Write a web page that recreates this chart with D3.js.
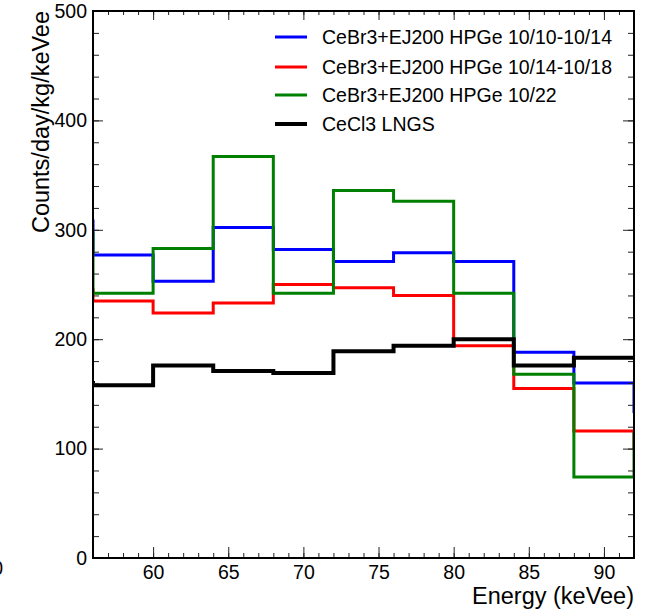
<!DOCTYPE html>
<html>
<head>
<meta charset="utf-8">
<script src="https://cdn.jsdelivr.net/npm/d3@7"></script>
<style>
    body { margin: 0; background: #fff; }
    svg { display: block; font-family: "Liberation Sans", Arial, Helvetica, sans-serif; }
    .tick line { stroke: #222; }
    .domain { display: none; }
</style>
</head>
<body>
<div id="chart"></div>
<script>
// bin low edges (keVee), 4 keVee wide; first and last bins sit outside the frame
const binStarts = [52, 56, 60, 64, 68, 72, 76, 80, 84, 88, 92];
const binWidth = 4;

const seriesNames = [
    "CeBr3+EJ200 HPGe 10/10-10/14",
    "CeBr3+EJ200 HPGe 10/14-10/18",
    "CeBr3+EJ200 HPGe 10/22",
    "CeCl3 LNGS"
];
const seriesColors = ["#0000ff", "#ff0000", "#008000", "#000000"];

// counts/day/kg/keVee per bin
const blueValues  = [308, 277, 253, 302, 282, 271, 279, 271, 188, 160, 134];
const redValues   = [245, 235, 224, 233, 250, 247, 240, 194, 155, 116, 100];
const greenValues = [297, 242, 283, 367, 242, 336, 326, 242, 168, 74, 114];
const blackValues = [160, 158, 176, 171, 169, 189, 194, 200, 176, 183, 183];

const xTicks = [60, 65, 70, 75, 80, 85, 90];
const yTicks = [0, 100, 200, 300, 400, 500];

(function () {
    let width = 646, height = 610;
    let frame = {left: 93, right: 634, top: 11, bottom: 558};

    let svg = d3.select("#chart").append("svg")
        .attr("width", width)
        .attr("height", height);

    let x = d3.scaleLinear().domain([56, 92]).range([frame.left, frame.right]);
    let y = d3.scaleLinear().domain([0, 500]).range([frame.bottom, frame.top]);

    svg.append("defs").append("clipPath").attr("id", "frameClip")
        .append("rect")
        .attr("x", frame.left).attr("y", frame.top)
        .attr("width", frame.right - frame.left)
        .attr("height", frame.bottom - frame.top);

    // histograms as steps
    let allValues = [blueValues, redValues, greenValues, blackValues];
    let line = d3.line()
        .x(d => x(d[0]))
        .y(d => y(d[1]))
        .curve(d3.curveStepAfter);

    let hists = svg.append("g").attr("clip-path", "url(#frameClip)");
    allValues.forEach((vals, i) => {
        let pts = binStarts.map((b, j) => [b, vals[j]]);
        pts.push([binStarts[binStarts.length - 1] + binWidth, vals[vals.length - 1]]);
        hists.append("path")
            .attr("d", line(pts))
            .attr("fill", "none")
            .attr("stroke", seriesColors[i])
            .attr("stroke-width", i == 3 ? 4 : 3)
            .attr("stroke-linejoin", "miter");
    });

    // axes with ticks inside the frame
    let fontSize = 19.5;
    let titleSize = 23.5;
    let xMinor = d3.range(56, 93, 1);
    let yMinor = d3.range(0, 501, 20);

    svg.append("g").attr("transform", `translate(0,${frame.bottom})`)
        .call(d3.axisBottom(x).tickValues(xMinor).tickSize(-5).tickFormat(""));
    let bottomMajor = svg.append("g").attr("transform", `translate(0,${frame.bottom})`)
        .call(d3.axisBottom(x).tickValues(xTicks).tickSize(-11).tickPadding(7).tickFormat(d3.format("d")));
    bottomMajor.selectAll("text").attr("font-size", fontSize).attr("fill", "#000");

    svg.append("g").attr("transform", `translate(0,${frame.top})`)
        .call(d3.axisTop(x).tickValues(xMinor).tickSize(-4).tickFormat(""));
    svg.append("g").attr("transform", `translate(0,${frame.top})`)
        .call(d3.axisTop(x).tickValues(xTicks).tickSize(-9).tickFormat(""));

    svg.append("g").attr("transform", `translate(${frame.left},0)`)
        .call(d3.axisLeft(y).tickValues(yMinor).tickSize(-6).tickFormat(""));
    let leftMajor = svg.append("g").attr("transform", `translate(${frame.left},0)`)
        .call(d3.axisLeft(y).tickValues(yTicks).tickSize(-10).tickPadding(6).tickFormat(d3.format("d")));
    leftMajor.selectAll("text").attr("font-size", fontSize).attr("fill", "#000");

    svg.append("g").attr("transform", `translate(${frame.right},0)`)
        .call(d3.axisRight(y).tickValues(yMinor).tickSize(-6).tickFormat(""));
    svg.append("g").attr("transform", `translate(${frame.right},0)`)
        .call(d3.axisRight(y).tickValues(yTicks).tickSize(-11).tickFormat(""));

    svg.selectAll(".tick text").attr("font-family", "Liberation Sans, Arial, sans-serif");

    // frame
    svg.append("rect")
        .attr("x", frame.left).attr("y", frame.top)
        .attr("width", frame.right - frame.left)
        .attr("height", frame.bottom - frame.top)
        .attr("fill", "none")
        .attr("stroke", "#000")
        .attr("stroke-width", 2);

    // axis titles
    svg.append("text")
        .attr("x", frame.right)
        .attr("y", 604)
        .attr("text-anchor", "end")
        .attr("font-size", titleSize)
        .text("Energy (keVee)");

    svg.append("text")
        .attr("transform", `translate(49,${frame.top}) rotate(-90)`)
        .attr("text-anchor", "end")
        .attr("font-size", titleSize)
        .text("Counts/day/kg/keVee");

    // cut-off label at the left border, as in the original
    svg.append("text")
        .attr("x", 3)
        .attr("y", 575)
        .attr("text-anchor", "end")
        .attr("font-size", fontSize)
        .text("0");

    // legend
    let legendY = [37, 67, 95, 124];
    let legend = svg.append("g");
    seriesNames.forEach((name, i) => {
        legend.append("line")
            .attr("x1", 275).attr("x2", 307)
            .attr("y1", legendY[i]).attr("y2", legendY[i])
            .attr("stroke", seriesColors[i])
            .attr("stroke-width", i == 3 ? 4 : 3);
        legend.append("text")
            .attr("x", 322)
            .attr("y", legendY[i])
            .attr("dy", "0.35em")
            .attr("font-size", fontSize)
            .text(name);
    });
})();
</script>
</body>
</html>
